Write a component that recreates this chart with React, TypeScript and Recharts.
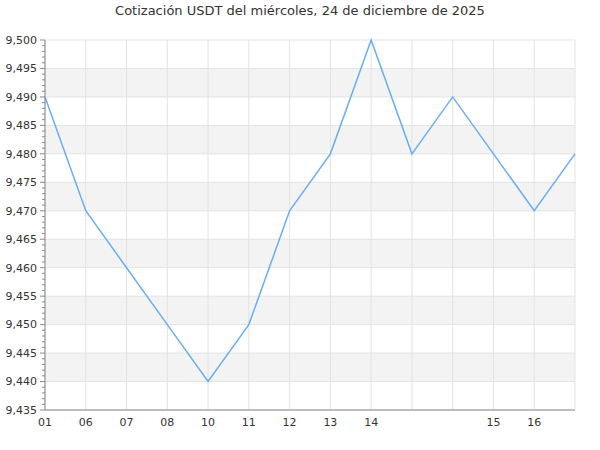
import { LineChart, Line, XAxis, YAxis, CartesianGrid } from "recharts";

const labels = ["01", "06", "07", "08", "10", "11", "12", "13", "14", "", "", "15", "16", ""];
const prices = [9.49, 9.47, 9.46, 9.45, 9.44, 9.45, 9.47, 9.48, 9.5, 9.48, 9.49, 9.48, 9.47, 9.48];
const majorTicks = [9.435, 9.44, 9.445, 9.45, 9.455, 9.46, 9.465, 9.47, 9.475, 9.48, 9.485, 9.49, 9.495, 9.5];

const data = labels.map((label, i) => ({ label, price: prices[i] }));

// minor ticks every 0.001
const allTicks: number[] = [];
for (let k = 9435; k <= 9500; k++) allTicks.push(k / 1000);

const fmt = (v: number) => v.toFixed(3).replace(".", ",");

function YTick(props: any) {
  const { x, y, payload } = props;
  const v = payload.value as number;
  const major = Math.round(v * 1000) % 5 === 0;
  const axisX = x + 8;
  return (
    <g>
      <line x1={axisX - (major ? 5 : 3)} x2={axisX} y1={y} y2={y} stroke="#888" />
      {major && (
        <text x={x} y={y} dy="0.35em" textAnchor="end" fill="#333" fontSize={11}>
          {fmt(v)}
        </text>
      )}
    </g>
  );
}

export default function App() {
  return (
    <div style={{ position: "absolute", left: 0, top: 0, width: 600, height: 450, fontFamily: "DejaVu Sans", background: "#fff" }}>
      <div style={{ position: "absolute", top: 3, width: 600, textAlign: "center", fontSize: 13, color: "#333" }}>
        Cotización USDT del miércoles, 24 de diciembre de 2025
      </div>
      <LineChart width={600} height={450} data={data} margin={{ top: 40, right: 25, bottom: 10, left: 0 }}>
        <CartesianGrid
          stroke="#e3e3e3"
          horizontalValues={majorTicks}
          horizontalFill={["#ffffff", "#f3f3f3"]}
          fillOpacity={1}
        />
        <XAxis
          dataKey="label"
          interval={0}
          tickLine={false}
          tickSize={6}
          tickMargin={2}
          stroke="#888"
          tick={{ fill: "#333", fontSize: 11 }}
          height={30}
        />
        <YAxis
          domain={[9.435, 9.5]}
          ticks={allTicks}
          interval={0}
          tickLine={false}
          tickSize={6}
          tickMargin={2}
          stroke="#888"
          width={45}
          tick={<YTick />}
        />
        <Line type="linear" dataKey="price" stroke="#6aaef2" strokeWidth={1.5} dot={false} isAnimationActive={false} />
      </LineChart>
    </div>
  );
}
